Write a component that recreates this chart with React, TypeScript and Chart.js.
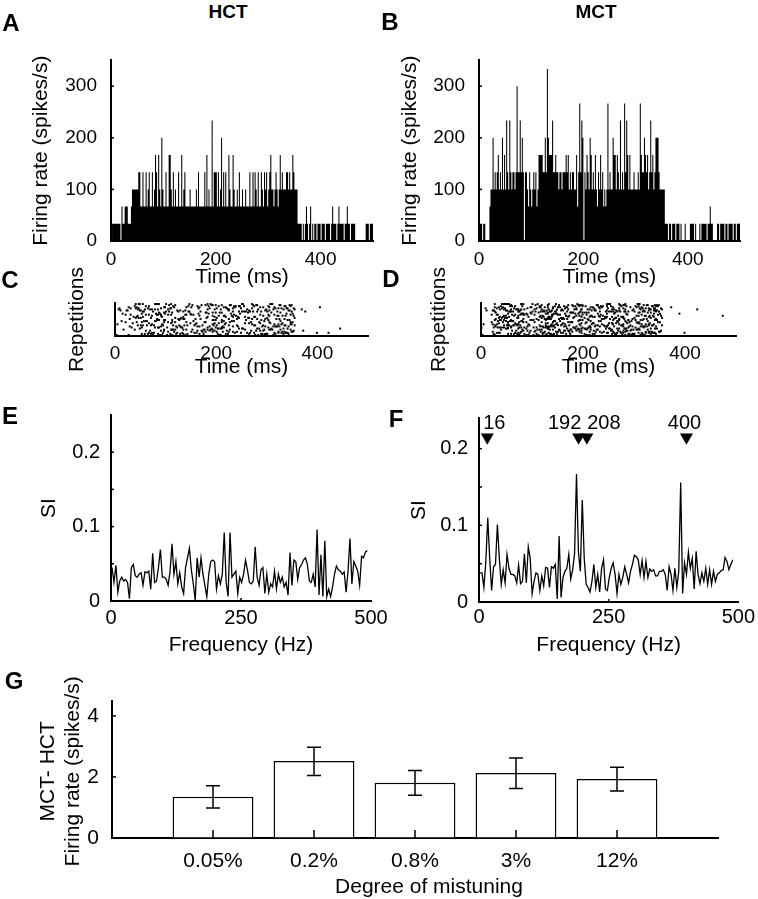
import React, { useEffect, useRef } from 'react';
import { Chart, registerables } from 'chart.js';

Chart.register(...registerables);

const FONT = '"Liberation Sans", Arial, Helvetica, sans-serif';
Chart.defaults.font.family = FONT;
Chart.defaults.color = '#000';

// ---------------- DATA ----------------
const BIN_MS = 2;
const SPIKES_PER_S_PER_COUNT = 100 / 3;
const RASTER_ROWS = 30;

// PSTH counts per 2-ms bin, HCT (panel A)
const HCT_COUNTS = [
  0,1,1,1,1,1,1,1,1,0,
  2,1,1,2,2,2,1,1,1,2,
  3,3,3,3,3,3,4,4,2,2,
  4,2,2,4,2,3,4,2,2,4,
  2,3,5,4,2,5,3,2,6,3,
  2,2,4,2,2,5,5,3,2,4,
  2,3,2,2,4,2,2,5,2,3,
  4,2,2,2,2,3,2,2,2,2,
  2,3,2,4,2,2,2,2,2,4,
  2,5,2,3,2,2,7,2,4,4,
  4,2,4,2,3,6,2,4,2,4,
  2,2,5,3,2,2,5,3,2,2,
  3,2,4,2,2,3,2,2,3,2,
  2,2,4,2,2,4,2,4,3,2,
  4,2,2,4,3,2,4,3,4,2,
  3,4,5,3,3,2,3,4,3,2,
  3,5,3,4,3,3,3,4,4,3,
  4,3,3,5,4,3,3,3,1,1,
  1,1,0,1,0,1,2,1,0,1,
  2,0,1,0,1,1,0,1,1,1,
  0,1,1,1,0,1,1,1,1,0,
  1,2,1,1,1,0,1,2,1,1,
  1,1,0,1,1,2,1,1,0,1,
  1,1,1,0,0,0,0,0,0,0,
  0,0,0,1,1,1,0,1,1,1,
];

// PSTH counts per 2-ms bin, MCT (panel B)
const MCT_COUNTS = [
  1,1,1,0,1,1,0,0,0,0,
  2,3,3,6,3,4,3,4,5,3,
  4,3,6,3,5,3,7,4,3,7,
  4,3,4,4,3,4,9,4,4,7,
  4,6,4,0,4,4,3,2,4,3,
  2,3,4,3,4,2,3,5,5,5,
  5,4,4,6,4,10,6,5,5,5,
  7,4,4,5,4,4,3,4,4,3,
  4,4,4,5,4,5,3,4,3,4,
  4,3,3,5,2,4,8,4,7,6,
  0,4,3,5,4,3,6,5,3,4,
  3,5,3,2,4,3,5,3,4,2,
  3,2,3,8,3,4,3,3,6,5,
  5,3,5,4,3,7,3,4,3,8,
  4,7,5,3,5,3,3,3,4,3,
  3,3,4,3,8,5,4,4,6,5,
  4,5,3,4,7,4,5,3,4,6,
  6,6,4,3,3,3,3,3,1,1,
  1,0,1,1,0,1,1,1,0,1,
  1,1,0,1,0,0,0,1,0,0,
  0,0,1,1,1,1,0,1,0,0,
  0,1,0,1,1,1,1,1,0,1,
  1,2,1,1,0,0,0,0,1,1,
  0,1,1,1,1,0,1,1,0,1,
  1,1,1,0,1,1,0,1,1,1,
];

// raster: sustained response ends here; late isolated spikes listed separately
const RASTER_END_MS = 356;
const HCT_LATE_T = [369, 376, 405, 372, 399, 422, 445];
const HCT_LATE_ROW = [25, 23, 27, 5, 3, 3, 7];
const MCT_LATE_T = [373, 389, 424, 474, 399];
const MCT_LATE_ROW = [27, 21, 25, 19, 3];

const TIME_TICK_STEP = 200;
const TIME_MAX = 500;

// synchronization index spectra
const FREQ_START = 2;
const FREQ_STEP = 3.72;
const SI_HCT = [
  .045,.025,.048,.012,.027,.032,.027,.029,.025,.003,
  .045,.049,.034,.032,.036,.038,.021,.039,.038,.040,
  .016,.064,.025,.027,.045,.069,.032,.032,.029,.021,
  .040,.077,.036,.053,.023,.038,.019,.010,.045,.058,
  .071,.042,.023,.001,.058,.032,.058,.036,.021,.006,
  .036,.053,.055,.053,.016,.034,.023,.036,.092,.025,
  .006,.092,.032,.036,.040,.010,.032,.025,.036,.055,
  .042,.025,.023,.027,.073,.032,.021,.042,.045,.010,
  .036,.012,.023,.019,.040,.016,.036,.025,.032,.019,
  .025,.008,.065,.021,.055,.053,.029,.045,.049,.055,
  .058,.049,.027,.025,.036,.019,.096,.008,.062,.006,
  .081,.006,.016,.006,.019,.036,.047,.042,.040,.036,
  .039,.012,.040,.084,.023,.053,.047,.040,.021,.060,
  .058,.066,.068,
];
const SI_MCT = [
  .038,.038,.019,.053,.110,.057,.015,.046,.049,.101,
  .057,.023,.042,.025,.062,.044,.036,.036,.034,.025,
  .048,.024,.027,.063,.025,.072,.057,.011,.027,.038,
  .036,.015,.034,.021,.045,.044,.019,.046,.044,.049,
  .004,.086,.006,.032,.040,.044,.062,.030,.042,.063,
  .167,.065,.040,.133,.057,.023,.019,.013,.027,.049,
  .019,.036,.013,.044,.055,.017,.015,.032,.044,.051,
  .036,.011,.036,.023,.032,.046,.036,.025,.040,.049,
  .061,.059,.055,.036,.054,.032,.053,.032,.043,.040,
  .042,.034,.034,.040,.040,.042,.036,.015,.046,.036,
  .015,.044,.019,.040,.156,.011,.051,.036,.065,.044,
  .057,.017,.066,.036,.024,.038,.027,.044,.023,.042,
  .023,.040,.027,.036,.038,.041,.042,.058,.053,.042,
  .049,.055,
];
const MARKER_FREQS = [16, 192, 208, 400];
const MARKER_LABELS = ['16', '192', '208', '400'];

// panel G
const G_CATEGORIES = ['0.05%', '0.2%', '0.8%', '3%', '12%'];
const G_MEANS = [1.35, 2.52, 1.81, 2.13, 1.93];
const G_ERR_LOW = [0.98, 2.05, 1.40, 1.62, 1.54];
const G_ERR_HIGH = [1.71, 2.97, 2.21, 2.62, 2.32];
const G_Y_TITLE = ['MCT- HCT', 'Firing rate (spikes/s)'];
const G_X_TITLE = 'Degree of mistuning';

// ---------------- STYLE / LAYOUT ----------------
const BLACK = '#000';
const MARKER_Y = 0.215;
const MARKER_LABEL_Y = 0.2325;
const MARKER_LABEL_DX = [7, -14, 17, -2];

type Rect = { left: number; top: number; width: number; height: number };
type Plot = { left: number; top: number; right: number; bottom: number };

function frame(c: Rect, p: Plot) {
  return {
    padding: { top: p.top - c.top, right: c.left + c.width - p.right, left: 0, bottom: 0 },
    yWidth: p.left - c.left,
    xHeight: c.top + c.height - p.bottom,
  };
}

function fnt(size: number, weight: any = 'normal') {
  return { family: FONT, size, weight, lineHeight: 1.2 };
}

const HIDDEN_GRID = { display: true, drawOnChartArea: false, drawTicks: false, color: 'rgba(0,0,0,0)' };
const AXIS_BORDER = { display: true, color: BLACK, width: 2 };

function axis(o: any) {
  const ticks: any = {
    display: o.showTicks !== false,
    padding: o.tickPad ?? 5,
    font: fnt(o.tickSize ?? 19),
    color: BLACK,
    maxRotation: 0,
    minRotation: 0,
    autoSkip: false,
    includeBounds: false,
  };
  if (o.step !== undefined) ticks.stepSize = o.step;
  const a: any = {
    type: o.type ?? 'linear',
    offset: false,
    border: AXIS_BORDER,
    grid: HIDDEN_GRID,
    ticks,
    title: {
      display: o.title !== undefined,
      text: o.title ?? '',
      font: fnt(o.titleSize ?? 21),
      color: BLACK,
      padding: o.horizontal ? { top: 0, bottom: o.titlePad ?? 0 } : { top: o.titlePad ?? 0, bottom: 0 },
    },
    afterFit: o.horizontal
      ? (s: any) => { s.height = o.fr.xHeight; }
      : (s: any) => { s.width = o.fr.yWidth; },
  };
  if (o.min !== undefined) a.min = o.min;
  if (o.max !== undefined) a.max = o.max;
  return a;
}

function baseOptions(fr: any) {
  return {
    responsive: false,
    maintainAspectRatio: false,
    animation: false,
    devicePixelRatio: 1,
    events: [],
    layout: { padding: fr.padding },
    plugins: { legend: { display: false }, tooltip: { enabled: false } },
  };
}

function inwardTicks(xVals: number[], xLen: number, yVals: number[], yLen: number) {
  return {
    id: 'inwardTicks',
    afterDatasetsDraw(chart: any) {
      const { ctx, chartArea, scales } = chart;
      ctx.save();
      ctx.strokeStyle = BLACK;
      ctx.lineWidth = 1.5;
      yVals.forEach((v) => {
        const y = scales.y.getPixelForValue(v);
        ctx.beginPath();
        ctx.moveTo(chartArea.left, y);
        ctx.lineTo(chartArea.left + yLen, y);
        ctx.stroke();
      });
      xVals.forEach((v) => {
        const x = scales.x.getPixelForValue(v);
        ctx.beginPath();
        ctx.moveTo(x, chartArea.bottom);
        ctx.lineTo(x, chartArea.bottom - xLen);
        ctx.stroke();
      });
      ctx.restore();
    },
  };
}

// ---------------- CHART BUILDERS ----------------
function psthConfig(counts: number[], c: Rect, p: Plot, yTitlePad: number) {
  const fr = frame(c, p);
  const pts = counts.map((n, i) => ({ x: i * BIN_MS, y: n * SPIKES_PER_S_PER_COUNT }));
  pts.push({ x: counts.length * BIN_MS, y: counts[counts.length - 1] * SPIKES_PER_S_PER_COUNT });
  return {
    type: 'line',
    data: {
      datasets: [{
        data: pts,
        stepped: 'before',
        fill: 'origin',
        backgroundColor: BLACK,
        borderColor: 'rgba(0,0,0,0)',
        borderWidth: 0,
        pointRadius: 0,
      }],
    },
    options: {
      ...baseOptions(fr),
      scales: {
        x: axis({ fr, horizontal: true, min: 0, max: TIME_MAX, step: TIME_TICK_STEP, tickPad: 7, title: 'Time (ms)', titlePad: 0 }),
        y: axis({ fr, min: 0, max: 350, step: 100, tickPad: 14, title: 'Firing rate (spikes/s)', titlePad: yTitlePad }),
      },
    },
    plugins: [inwardTicks([], 0, [100, 200, 300], 3)],
  };
}

// each spike counted in the PSTH is placed on one of the repetition rows;
// the row order cannot be read from the figure, so a fixed integer hash spreads them
function rowHash(i: number) {
  let h = (i + 1) | 0;
  h ^= h >>> 16;
  h = Math.imul(h, 0x85ebca6b);
  h ^= h >>> 13;
  h = Math.imul(h, 0xc2b2ae35);
  h ^= h >>> 16;
  return (h >>> 0) % RASTER_ROWS;
}

function rasterPoints(counts: number[], lateT: number[], lateRow: number[]) {
  const pts: any[] = [];
  counts.forEach((n, i) => {
    const t = i * BIN_MS + BIN_MS / 2;
    if (t > RASTER_END_MS) return;
    for (let k = 0; k < n; k++) {
      const row = ((rowHash(i) + rowHash(i * 31 + k + 1000) % 4 + k * 7) % RASTER_ROWS) + 1;
      pts.push({ x: t, y: row });
    }
  });
  lateT.forEach((t, j) => pts.push({ x: t, y: lateRow[j] }));
  return pts;
}

function rasterConfig(points: any[], c: Rect, p: Plot, yTitlePad: number) {
  const fr = frame(c, p);
  return {
    type: 'scatter',
    data: {
      datasets: [{
        data: points,
        pointStyle: 'rect',
        pointRadius: 1.4,
        pointBackgroundColor: BLACK,
        pointBorderWidth: 0,
        showLine: false,
      }],
    },
    options: {
      ...baseOptions(fr),
      scales: {
        x: axis({ fr, horizontal: true, min: 0, max: TIME_MAX, step: TIME_TICK_STEP, tickPad: 6, title: 'Time (ms)', titlePad: 0 }),
        y: axis({ fr, min: 0, max: RASTER_ROWS + 1, showTicks: false, title: 'Repetitions', titlePad: yTitlePad }),
      },
    },
  };
}

function spectrumConfig(values: number[], yMax: number, markers: boolean, c: Rect, p: Plot, yTitlePad: number, xTickPad: number) {
  const fr = frame(c, p);
  const datasets: any[] = [{
    data: values.map((v, i) => ({ x: FREQ_START + i * FREQ_STEP, y: v })),
    borderColor: BLACK,
    borderWidth: 1.3,
    pointRadius: 0,
    tension: 0,
    fill: false,
  }];
  const plugins: any[] = [inwardTicks([250], 3, [0.05, 0.1, 0.15, 0.2], 3)];
  if (markers) {
    datasets.push({
      data: MARKER_FREQS.map((f) => ({ x: f, y: MARKER_Y })),
      showLine: false,
      pointStyle: 'triangle',
      pointRotation: 180,
      pointRadius: 7.5,
      pointBackgroundColor: BLACK,
      pointBorderColor: BLACK,
      pointBorderWidth: 0,
      clip: false,
    });
    plugins.push({
      id: 'markerLabels',
      afterDatasetsDraw(chart: any) {
        const { ctx, scales } = chart;
        ctx.save();
        ctx.fillStyle = BLACK;
        ctx.font = `20px ${FONT}`;
        ctx.textAlign = 'center';
        ctx.textBaseline = 'middle';
        MARKER_FREQS.forEach((f, i) => {
          ctx.fillText(MARKER_LABELS[i], scales.x.getPixelForValue(f) + MARKER_LABEL_DX[i], scales.y.getPixelForValue(MARKER_LABEL_Y));
        });
        ctx.restore();
      },
    });
  }
  return {
    type: 'line',
    data: { datasets },
    options: {
      ...baseOptions(fr),
      scales: {
        x: axis({ fr, horizontal: true, min: 0, max: 500, step: 250, tickPad: xTickPad, tickSize: 20, title: 'Frequency (Hz)', titlePad: 2 }),
        y: axis({ fr, min: 0, max: yMax, step: 0.1, tickPad: 11, tickSize: 20, title: 'SI', titlePad: yTitlePad }),
      },
    },
    plugins,
  };
}

function barConfig(c: Rect, p: Plot) {
  const fr = frame(c, p);
  const labels = ['', ...G_CATEGORIES, ''];
  const data = [null, ...G_MEANS, null];
  return {
    type: 'bar',
    data: {
      labels,
      datasets: [{
        data,
        backgroundColor: '#fff',
        borderColor: BLACK,
        borderWidth: 1.5,
        categoryPercentage: 0.8,
        barPercentage: 1,
      }],
    },
    options: {
      ...baseOptions(fr),
      scales: {
        x: axis({ fr, horizontal: true, type: 'category', tickPad: 11, tickSize: 21 }),
        y: axis({ fr, min: 0, max: 4.5, step: 2, tickPad: 13, tickSize: 21 }),
      },
    },
    plugins: [
      inwardTicks([1, 2, 3, 4, 5], 8, [2, 4], 4),
      {
        id: 'errorBars',
        afterDatasetsDraw(chart: any) {
          const { ctx, scales } = chart;
          ctx.save();
          ctx.strokeStyle = BLACK;
          ctx.lineWidth = 1.5;
          G_ERR_LOW.forEach((lo, i) => {
            const x = scales.x.getPixelForValue(i + 1);
            const y1 = scales.y.getPixelForValue(lo);
            const y2 = scales.y.getPixelForValue(G_ERR_HIGH[i]);
            ctx.beginPath();
            ctx.moveTo(x, y1); ctx.lineTo(x, y2);
            ctx.moveTo(x - 7, y1); ctx.lineTo(x + 7, y1);
            ctx.moveTo(x - 7, y2); ctx.lineTo(x + 7, y2);
            ctx.stroke();
          });
          ctx.restore();
        },
      },
      {
        id: 'axisTitlesG',
        afterDraw(chart: any) {
          const { ctx, chartArea } = chart;
          const midY = (chartArea.top + chartArea.bottom) / 2 + 2;
          ctx.save();
          ctx.fillStyle = BLACK;
          ctx.font = `21px ${FONT}`;
          ctx.textAlign = 'center';
          ctx.textBaseline = 'middle';
          G_Y_TITLE.forEach((line, i) => {
            ctx.save();
            ctx.translate(48 + i * 25, midY);
            ctx.rotate(-Math.PI / 2);
            ctx.fillText(line, 0, 0);
            ctx.restore();
          });
          ctx.fillText(G_X_TITLE, (chartArea.left + chartArea.right) / 2 + 14, chartArea.bottom + 49);
          ctx.restore();
        },
      },
    ],
  };
}

// ---------------- COMPONENTS ----------------
function ChartBox({ rect, make }: { rect: Rect; make: () => any }) {
  const ref = useRef<HTMLCanvasElement>(null);
  useEffect(() => {
    const chart = new Chart(ref.current as HTMLCanvasElement, make());
    return () => chart.destroy();
  }, []);
  return (
    <canvas
      ref={ref}
      width={rect.width}
      height={rect.height}
      style={{ position: 'absolute', left: rect.left, top: rect.top, width: rect.width, height: rect.height }}
    />
  );
}

function Label({ x, y, text, size, weight = 'bold' }: { x: number; y: number; text: string; size: number; weight?: string }) {
  return (
    <div
      style={{
        position: 'absolute', left: x, top: y, transform: 'translate(-50%, -50%)',
        fontFamily: FONT, fontSize: size, fontWeight: weight as any, lineHeight: 1, whiteSpace: 'nowrap', color: BLACK,
      }}
    >
      {text}
    </div>
  );
}

const RECT_A = { left: 0, top: 35, width: 380, height: 255 };
const PLOT_A = { left: 111, top: 47, right: 373, bottom: 241 };
const RECT_B = { left: 378, top: 35, width: 380, height: 255 };
const PLOT_B = { left: 479, top: 47, right: 740, bottom: 241 };
const RECT_C = { left: 0, top: 262, width: 380, height: 118 };
const PLOT_C = { left: 115, top: 303, right: 368, bottom: 336 };
const RECT_D = { left: 378, top: 262, width: 380, height: 118 };
const PLOT_D = { left: 481, top: 303, right: 736, bottom: 336 };
const RECT_E = { left: 0, top: 392, width: 395, height: 268 };
const PLOT_E = { left: 111, top: 407, right: 371, bottom: 601 };
const RECT_F = { left: 378, top: 395, width: 380, height: 265 };
const PLOT_F = { left: 479, top: 412, right: 740, bottom: 602 };
const RECT_G = { left: 0, top: 675, width: 758, height: 224 };
const PLOT_G = { left: 112, top: 688, right: 718, bottom: 838 };

export default function App() {
  return (
    <div style={{ position: 'absolute', left: 0, top: 0, width: 758, height: 899, background: '#fff', overflow: 'hidden' }}>
      <ChartBox rect={RECT_A} make={() => psthConfig(HCT_COUNTS, RECT_A, PLOT_A, 29)} />
      <ChartBox rect={RECT_B} make={() => psthConfig(MCT_COUNTS, RECT_B, PLOT_B, 20)} />
      <ChartBox rect={RECT_C} make={() => rasterConfig(rasterPoints(HCT_COUNTS, HCT_LATE_T, HCT_LATE_ROW), RECT_C, PLOT_C, 65)} />
      <ChartBox rect={RECT_D} make={() => rasterConfig(rasterPoints(MCT_COUNTS, MCT_LATE_T, MCT_LATE_ROW), RECT_D, PLOT_D, 49)} />
      <ChartBox rect={RECT_E} make={() => spectrumConfig(SI_HCT, 0.25, false, RECT_E, PLOT_E, 37, 5)} />
      <ChartBox rect={RECT_F} make={() => spectrumConfig(SI_MCT, 0.24, true, RECT_F, PLOT_F, 29, 3)} />
      <ChartBox rect={RECT_G} make={() => barConfig(RECT_G, PLOT_G)} />
      <Label x={11} y={23} text="A" size={24} />
      <Label x={390} y={22} text="B" size={24} />
      <Label x={10} y={280} text="C" size={24} />
      <Label x={391} y={279} text="D" size={24} />
      <Label x={10} y={416} text="E" size={24} />
      <Label x={396} y={419} text="F" size={24} />
      <Label x={14} y={681} text="G" size={24} />
      <Label x={228} y={11} text="HCT" size={19} />
      <Label x={596} y={11} text="MCT" size={19} />
    </div>
  );
}
